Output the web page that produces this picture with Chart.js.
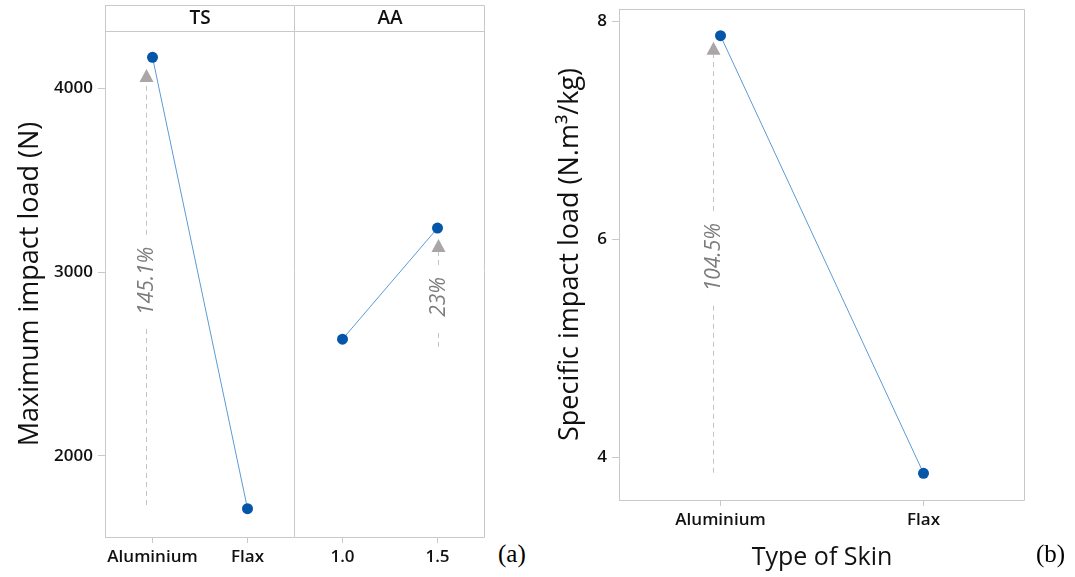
<!DOCTYPE html>
<html>
<head>
<meta charset="utf-8">
<script src="https://cdn.jsdelivr.net/npm/chart.js@4/dist/chart.umd.min.js"></script>
<style>
  html, body { margin: 0; padding: 0; background: #fff; }
  body { width: 1075px; height: 577px; position: relative; overflow: hidden; }
  .box { position: absolute; }
  .tag { position: absolute; font-family: "Liberation Serif", serif; font-size: 25px; color: #000; }
</style>
</head>
<body>
<div class="box" style="left:0;top:0;width:295px;height:577px"><canvas id="chartTS"></canvas></div>
<div class="box" style="left:295px;top:0;width:190px;height:577px"><canvas id="chartAA"></canvas></div>
<div class="box" style="left:540px;top:0;width:535px;height:577px"><canvas id="chartB"></canvas></div>
<div class="tag" style="left:498px;top:540px">(a)</div>
<div class="tag" style="left:1036px;top:540px">(b)</div>
<script>
// data
const skinTypes = ["Aluminium", "Flax"];
const aaLevels = ["1.0", "1.5"];
const tsLoad = [4168, 1713];
const aaLoad = [2635, 3239];
const loadTicks = [2000, 3000, 4000];
const skinSpecific = [7.865, 3.855];
const specificTicks = [4, 6, 8];

// percent-change arrows: [x position (category index), from, to, text centre, label]
const arrowTS = [-0.07, 1733, 4105, 2952, "145.1%"];
const arrowAA = [1.0, 2593, 3180, 2865, "23%"];
const arrowB = [-0.035, 3.86, 7.81, 5.835, "104.5%"];

const FONT = "'Open Sans', 'Noto Sans', sans-serif";
const FRAME = "#c9c9c9";
const DOT = "#0556a8";
const LINE = "#5b9bd5";

const framePlugin = {
  id: "frame",
  afterDraw(chart, args, opts) {
    const a = chart.chartArea;
    const ctx = chart.ctx;
    ctx.save();
    ctx.strokeStyle = FRAME;
    ctx.lineWidth = 1;
    ctx.beginPath();
    const top = opts.strip ? 5 : a.top;
    const l = a.left + 0.5, r = a.right - 0.5, b = a.bottom + 0.5;
    if (opts.left !== false) { ctx.moveTo(l, top + 0.5); ctx.lineTo(l, b); }
    ctx.moveTo(a.left, b); ctx.lineTo(r, b);
    ctx.moveTo(r, b); ctx.lineTo(r, top + 0.5);
    ctx.moveTo(a.left, top + 0.5); ctx.lineTo(r, top + 0.5);
    if (opts.strip) {
      ctx.moveTo(a.left, a.top + 0.5); ctx.lineTo(r, a.top + 0.5);
    }
    ctx.stroke();
    if (opts.strip) {
      ctx.fillStyle = "#111";
      ctx.font = "600 19px " + FONT;
      ctx.textAlign = "center";
      ctx.textBaseline = "middle";
      ctx.fillText(opts.strip, (a.left + a.right) / 2, (top + a.top) / 2 + 1);
    }
    ctx.restore();
  }
};

const arrowPlugin = {
  id: "pctArrow",
  afterDatasetsDraw(chart, args, opts) {
    const arr = opts.arrow;
    if (!arr) return;
    const xs = chart.scales.x, ys = chart.scales.y;
    const ctx = chart.ctx;
    const x = Math.round(xs.getPixelForValue(arr[0])) + 0.5;
    const yFrom = ys.getPixelForValue(arr[1]);
    const yTo = ys.getPixelForValue(arr[2]);
    const yText = ys.getPixelForValue(arr[3]);
    ctx.save();
    ctx.font = "italic 21px " + FONT;
    const tw = ctx.measureText(arr[4]).width;
    const gap = tw / 2 + 12;
    const triH = 13, triW = 14;
    ctx.strokeStyle = "#c4c4c4";
    ctx.lineWidth = 1;
    ctx.setLineDash([5, 4]);
    ctx.beginPath();
    ctx.moveTo(x, yFrom);
    ctx.lineTo(x, yText + gap);
    ctx.moveTo(x, yText - gap);
    ctx.lineTo(x, yTo + triH);
    ctx.stroke();
    ctx.setLineDash([]);
    ctx.fillStyle = "#aaa6a6";
    ctx.beginPath();
    ctx.moveTo(x, yTo);
    ctx.lineTo(x - triW / 2, yTo + triH);
    ctx.lineTo(x + triW / 2, yTo + triH);
    ctx.closePath();
    ctx.fill();
    ctx.translate(x, yText);
    ctx.rotate(-Math.PI / 2);
    ctx.fillStyle = "#7c7c7c";
    ctx.textAlign = "center";
    ctx.textBaseline = "middle";
    ctx.fillText(arr[4], 0, 1);
    ctx.restore();
  }
};

function lineData(labels, values) {
  return {
    labels: labels,
    datasets: [{
      data: values,
      borderColor: LINE,
      borderWidth: 1,
      backgroundColor: DOT,
      pointBackgroundColor: DOT,
      pointBorderWidth: 0,
      pointRadius: 5.5,
      tension: 0,
      clip: false
    }]
  };
}

function xAxis(height, title) {
  return {
    type: "category",
    offset: true,
    grid: { display: true, drawOnChartArea: false, drawTicks: true, tickLength: 6, color: FRAME },
    border: { display: false },
    ticks: { color: "#111", font: { family: FONT, size: 17, weight: "600" }, padding: 4, maxRotation: 0, autoSkip: false },
    title: title ? { display: true, text: title, color: "#111", font: { family: FONT, size: 25 }, padding: { top: 3 } } : { display: false },
    afterFit(s) { s.height = height; s.paddingLeft = 0; s.paddingRight = 0; }
  };
}

function yAxis(min, max, tickVals, width, title, show) {
  return {
    type: "linear",
    min: min,
    max: max,
    display: show,
    afterBuildTicks(s) { s.ticks = tickVals.map(v => ({ value: v })); },
    grid: { display: true, drawOnChartArea: false, drawTicks: true, tickLength: 7, color: FRAME },
    border: { display: false },
    ticks: { color: "#111", font: { family: FONT, size: 17, weight: "600" }, padding: 5, callback: v => String(v) },
    title: title ? { display: true, text: title, color: "#111", font: { family: FONT, size: 27 }, padding: { top: 14, bottom: 0 } } : { display: false },
    afterFit(s) { if (width) s.width = width; s.paddingTop = 0; s.paddingBottom = 0; }
  };
}

function baseOptions(layout, scales, plugins) {
  return {
    responsive: true,
    maintainAspectRatio: false,
    animation: false,
    layout: { padding: layout, autoPadding: false },
    plugins: Object.assign({ legend: { display: false }, tooltip: { enabled: false } }, plugins),
    scales: scales
  };
}

new Chart(document.getElementById("chartTS"), {
  type: "line",
  data: lineData(skinTypes, tsLoad),
  options: baseOptions(
    { top: 31, right: 0, bottom: 0, left: 0 },
    { x: xAxis(40), y: yAxis(1559, 4311, loadTicks, 105, "Maximum impact load (N)", true) },
    { frame: { strip: "TS" }, pctArrow: { arrow: arrowTS } }
  ),
  plugins: [framePlugin, arrowPlugin]
});

new Chart(document.getElementById("chartAA"), {
  type: "line",
  data: lineData(aaLevels, aaLoad),
  options: baseOptions(
    { top: 31, right: 0, bottom: 0, left: 0 },
    { x: xAxis(40), y: yAxis(1559, 4311, loadTicks, 0, "", false) },
    { frame: { strip: "AA", left: false }, pctArrow: { arrow: arrowAA } }
  ),
  plugins: [framePlugin, arrowPlugin]
});

new Chart(document.getElementById("chartB"), {
  type: "line",
  data: lineData(skinTypes, skinSpecific),
  options: baseOptions(
    { top: 9, right: 50, bottom: 0, left: 0 },
    { x: xAxis(77, "Type of Skin"), y: yAxis(3.61, 8.11, specificTicks, 79, "Specific impact load (N.m³/kg)", true) },
    { frame: {}, pctArrow: { arrow: arrowB } }
  ),
  plugins: [framePlugin, arrowPlugin]
});
</script>
</body>
</html>
